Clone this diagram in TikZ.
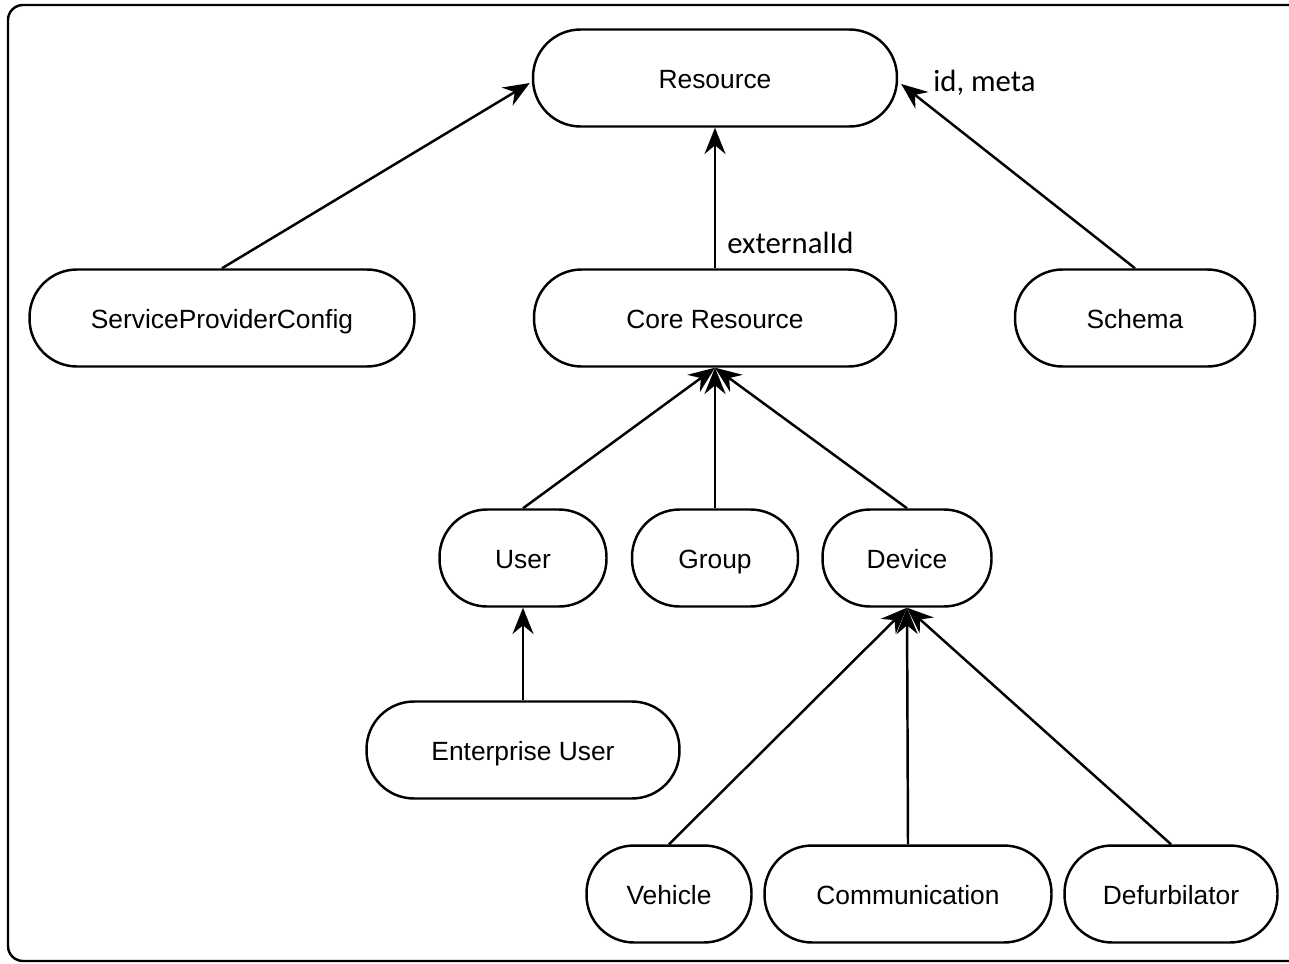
\documentclass[tikz,border=0pt]{standalone}
\usepackage{fontspec}
\setmainfont{Liberation Sans}
\newfontfamily\labelfont{Carlito}
\usetikzlibrary{positioning, arrows.meta, calc}

\begin{document}
\begin{tikzpicture}[
  x=0.02cm, y=-0.02cm,
  cls/.style={draw, line width=1.4pt, rounded corners=0.95cm, minimum height=1.94cm, text height=13pt, text depth=1.5pt, align=center, font=\fontsize{15}{18}\selectfont},
  arrow/.style={-{Stealth[length=15pt, width=12pt, inset=5pt]}, line width=1.4pt},
  attr/.style={anchor=west, inner sep=0pt, font=\labelfont\fontsize{17.5}{20}\selectfont}
]
\useasboundingbox (0,0) rectangle (1289,964);
\clip (0,0) rectangle (1289,964);
\draw[line width=1.4pt, rounded corners=0.3cm] (8,5) rectangle (1310,961);

% top level
\node[cls, minimum width=7.28cm] (Resource) at (715,78) {Resource};

% second level
\node[cls, minimum width=7.7cm] (SPC) at (222,318) {ServiceProviderConfig};
\node[cls, minimum width=7.24cm] (Core) at (715,318) {Core Resource};
\node[cls, minimum width=4.8cm] (Schema) at (1135,318) {Schema};

% core resources
\node[cls, minimum width=3.34cm] (User) at (523,558) {User};
\node[cls, minimum width=3.32cm] (Group) at (715,558) {Group};
\node[cls, minimum width=3.38cm] (Device) at (907,558) {Device};

% extensions
\node[cls, minimum width=6.26cm] (EntUser) at (523,750) {Enterprise User};
\node[cls, minimum width=3.3cm] (Vehicle) at (669,894) {Vehicle};
\node[cls, minimum width=5.74cm] (Comm) at (908,894) {Communication};
\node[cls, minimum width=4.26cm] (Defurb) at (1171,894) {Defurbilator};

% attribute labels
\node[attr] (extId) at (727,243) {externalId};
\node[attr] (idMeta) at (933,83) {id, meta};

\draw[arrow] (SPC.north) -- ($(Resource.west)+(-2,5)$);
\draw[arrow] (Core.north) -- (Resource.south);
\draw[arrow] (Schema.north) -- ($(Resource.east)+(3,6)$);

\draw[arrow] (User.north) -- (Core.south);
\draw[arrow] (Group.north) -- (Core.south);
\draw[arrow] (Device.north) -- (Core.south);

\draw[arrow] (EntUser.north) -- (User.south);

\draw[arrow] (Vehicle.north) -- (Device.south);
\draw[arrow] (Comm.north) -- (Device.south);
\draw[arrow] (Defurb.north) -- (Device.south);
\end{tikzpicture}
\end{document}
